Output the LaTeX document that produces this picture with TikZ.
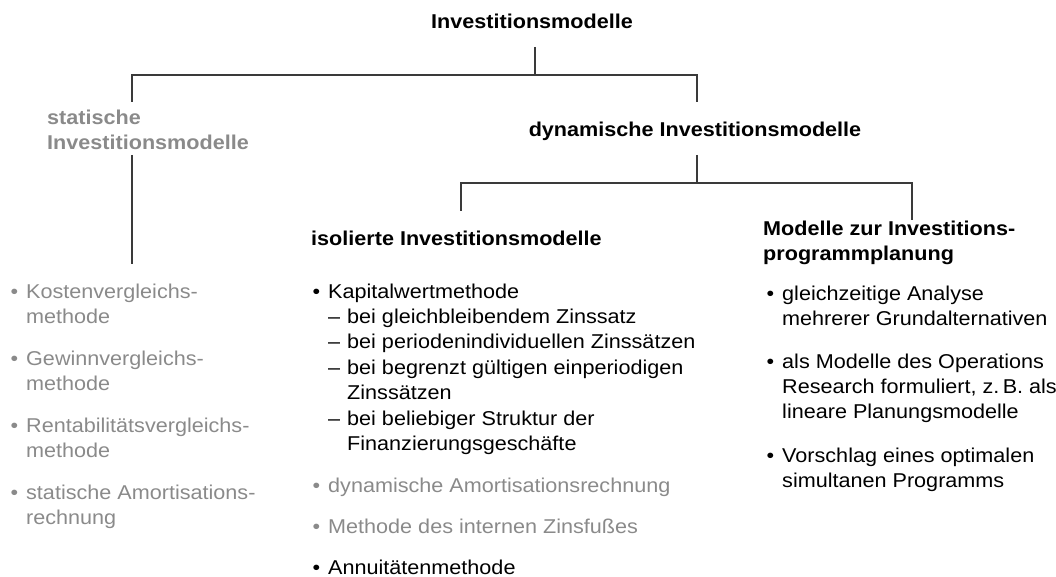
\documentclass[tikz,border=0pt]{standalone}
\usepackage{fontspec}
\setmainfont{Liberation Sans}[FakeStretch=1.08]
\definecolor{linegray}{RGB}{58,58,58}
\definecolor{textgray}{RGB}{138,138,138}
\newcommand\bul{\llap{\textbullet\hspace{8pt}}}
\newcommand\dsh{\llap{–\hspace{7pt}}}
% a block of lines whose baseline is that of its first line
\newcommand\lines[1]{\begin{tabular}[t]{@{}l@{}}#1\end{tabular}}
\begin{document}
\begin{tikzpicture}[x=1pt,y=-1pt,
  txt/.style={inner sep=0pt, anchor=base west,
    font=\fontsize{20}{25.3}\selectfont},
  head/.style={txt, font=\fontsize{20}{25}\selectfont\bfseries},
  grey/.style={text=textgray},
  conn/.style={draw=linegray, line width=1.6pt}]
\useasboundingbox (0,0) rectangle (1056,577);

% headings
\node[head, anchor=base] (top) at (532,29) {Investitionsmodelle};
\node[head, grey] (stat) at (47,125) {\lines{statische\\Investitionsmodelle}};
\node[head, anchor=base] (dyn) at (695,137) {dynamische Investitionsmodelle};
\node[head] (iso) at (311,245) {isolierte Investitionsmodelle};
\node[head] (prog) at (763,235) {\lines{Modelle zur Investitions-\\programmplanung}};

% static methods
\node[txt, grey] (s1) at (26,298) {\lines{\bul Kostenvergleichs-\\methode}};
\node[txt, grey] (s2) at (26,365) {\lines{\bul Gewinnvergleichs-\\methode}};
\node[txt, grey] (s3) at (26,432) {\lines{\bul Rentabilitätsvergleichs-\\methode}};
\node[txt, grey] (s4) at (26,499) {\lines{\bul statische Amortisations-\\rechnung}};

% isolated models
\node[txt] (i1) at (328,298) {\bul Kapitalwertmethode};
\node[txt] (i1a) at (347,323) {\dsh bei gleichbleibendem Zinssatz};
\node[txt] (i1b) at (347,348) {\dsh bei periodenindividuellen Zinssätzen};
\node[txt] (i1c) at (347,374) {\lines{\dsh bei begrenzt gültigen einperiodigen\\Zinssätzen}};
\node[txt] (i1d) at (347,425) {\lines{\dsh bei beliebiger Struktur der\\Finanzierungsgeschäfte}};
\node[txt, grey] (i2) at (328,492) {\bul dynamische Amortisationsrechnung};
\node[txt, grey] (i3) at (328,533) {\bul Methode des internen Zinsfußes};
\node[txt] (i4) at (328,574) {\bul Annuitätenmethode};

% programme planning
\node[txt] (p1) at (782,300) {\lines{\bul gleichzeitige Analyse\\mehrerer Grundalternativen}};
\node[txt] (p2) at (782,368) {\lines{\bul als Modelle des Operations\\Research formuliert, z.\,B. als\\lineare Planungsmodelle}};
\node[txt] (p3) at (782,462) {\lines{\bul Vorschlag eines optimalen\\simultanen Programms}};

% connector end points
\coordinate (topS) at (535,47);
\coordinate (bar1) at (535,75);
\coordinate (statN) at (132,102);
\coordinate (dynN) at (697,102);
\coordinate (statS) at (132,155);
\coordinate (statL) at (132,264);
\coordinate (dynS) at (697,155);
\coordinate (bar2) at (697,183);
\coordinate (isoN) at (461,211);
\coordinate (progN) at (912,220);

\draw[conn] (topS) -- (bar1);
\draw[conn] (statN) -- (statN |- bar1) -- (dynN |- bar1) -- (dynN);
\draw[conn] (statS) -- (statL);
\draw[conn] (dynS) -- (bar2);
\draw[conn] (isoN) -- (isoN |- bar2) -- (progN |- bar2) -- (progN);
\end{tikzpicture}
\end{document}
